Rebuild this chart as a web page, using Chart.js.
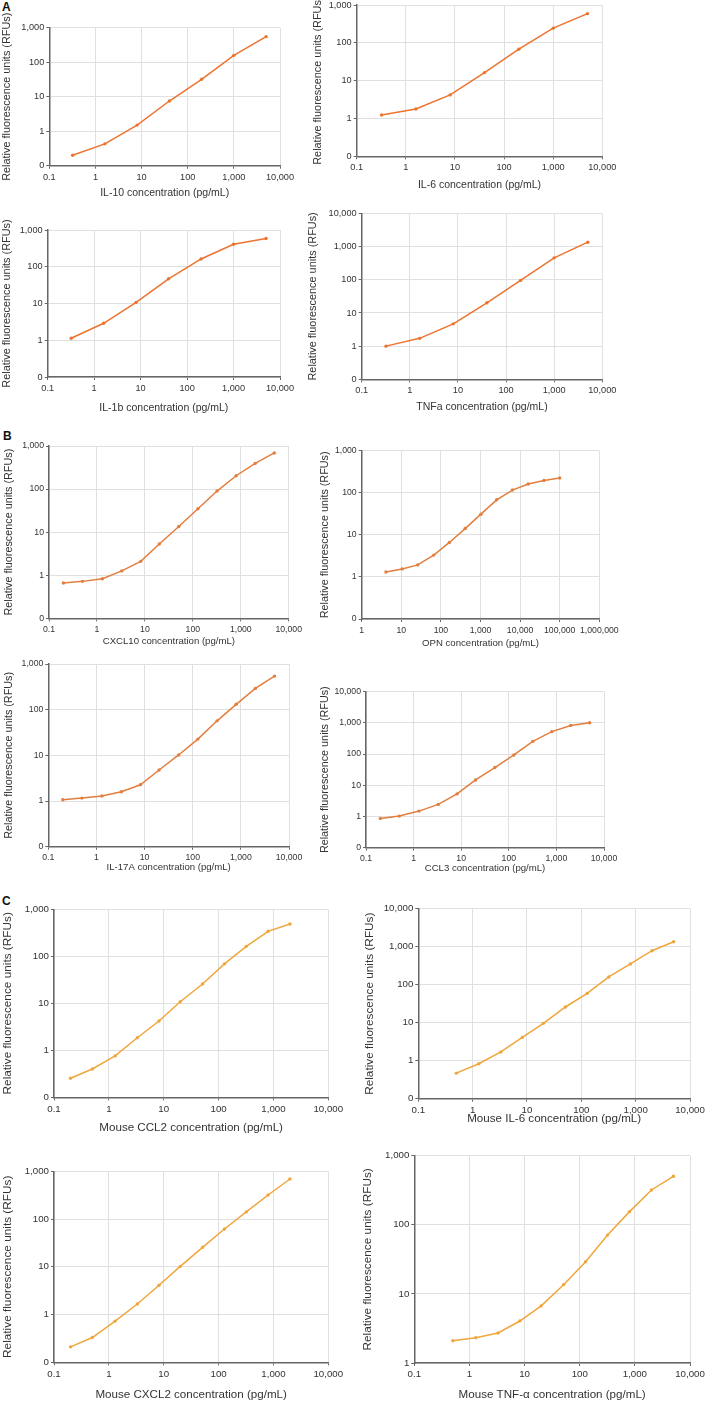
<!DOCTYPE html>
<html><head><meta charset="utf-8">
<script src="https://cdn.jsdelivr.net/npm/chart.js@4/dist/chart.umd.min.js"></script>
<style>
html,body{margin:0;padding:0;width:709px;height:1401px;overflow:hidden;background:#fff;position:relative;}
canvas{position:absolute;}
.lbl{position:absolute;font-family:"Liberation Sans",Arial,sans-serif;font-weight:bold;font-size:12px;color:#111;line-height:12px;}
</style></head><body>
<div class="lbl" style="left:2px;top:1px">A</div>
<div class="lbl" style="left:3px;top:430px">B</div>
<div class="lbl" style="left:2px;top:895px">C</div>
<script>
// ---- tick label values ----
const xTicksStd = [0.1, 1, 10, 100, 1000, 10000];
const xTicksOPN = [1, 10, 100, 1000, 10000, 100000, 1000000];
const yTicks3 = [0.1, 1, 10, 100, 1000];
const yTicks4 = [0.1, 1, 10, 100, 1000, 10000];
const yTicksTNF = [1, 10, 100, 1000];

// ---- series data ----
const il10X = [0.32, 1.6, 8, 40, 200, 1000, 5000];
const il10Y = [0.2, 0.43, 1.5, 7.5, 32, 158, 550];
const il6X = [0.32, 1.6, 8, 40, 200, 1000, 5000];
const il6Y = [1.24, 1.78, 4.2, 16.3, 68, 244, 590];
const il1bX = [0.32, 1.6, 8, 40, 200, 1000, 5000];
const il1bY = [1.13, 2.9, 10.7, 47, 163, 410, 585];
const tnfaX = [0.32, 1.6, 8, 40, 200, 1000, 5000];
const tnfaY = [1.0, 1.72, 4.7, 20.3, 96, 460, 1365];
const cxcl10X = [0.2, 0.5, 1.3, 3.3, 8.2, 20, 51, 128, 320, 800, 2000, 5000];
const cxcl10Y = [0.66, 0.72, 0.83, 1.26, 2.1, 5.3, 13.5, 35, 90, 204, 395, 690];
const opnX = [4.1, 10.5, 26, 66, 164, 410, 1024, 2560, 6400, 16000, 40000, 100000];
const opnY = [1.31, 1.55, 1.93, 3.3, 6.6, 14.1, 31, 68, 116, 161, 196, 224];
const il17aX = [0.2, 0.5, 1.3, 3.3, 8.2, 20, 51, 128, 320, 800, 2000, 5000];
const il17aY = [1.07, 1.16, 1.29, 1.6, 2.27, 4.77, 10.2, 22.7, 57, 131, 292, 543];
const ccl3X = [0.2, 0.5, 1.3, 3.3, 8.2, 20, 51, 128, 320, 800, 2000, 5000];
const ccl3Y = [0.87, 1.03, 1.49, 2.44, 5.3, 14.8, 37, 94, 256, 524, 830, 1014];
const mCcl2X = [0.2, 0.5, 1.3, 3.3, 8.2, 20, 51, 128, 320, 800, 2000];
const mCcl2Y = [0.254, 0.4, 0.76, 1.85, 4.2, 10.8, 25.7, 69, 163, 340, 486];
const mIl6X = [0.5, 1.3, 3.3, 8.2, 20, 51, 128, 320, 800, 2000, 5000];
const mIl6Y = [0.47, 0.83, 1.7, 4.1, 9.6, 25.9, 59, 160, 351, 785, 1350];
const mCxcl2X = [0.2, 0.5, 1.3, 3.3, 8.2, 20, 51, 128, 320, 800, 2000];
const mCxcl2Y = [0.21, 0.33, 0.73, 1.66, 4.1, 10.2, 25.6, 62, 141, 319, 690];
const mTnfX = [0.5, 1.3, 3.3, 8.2, 20, 51, 128, 320, 800, 2000, 5000];
const mTnfY = [2.1, 2.32, 2.72, 4.05, 6.7, 13.6, 29.2, 71, 155, 319, 504];

const yTitle = 'Relative fluorescence units (RFUs)';
const colA = '#EC742F', colB = '#E27E3E', colC = '#EFA63C';
const FAM = '"Liberation Sans", Arial, Helvetica, sans-serif';

const styleA = {tFs: 9.2, xFs: 10.5, yFs: 10.9, color: colA};
const styleB = {tFs: 8.7, xFs: 9.6, yFs: 10.8, color: colB};
const styleC = {tFs: 9.7, xFs: 11.6, yFs: 11.8, color: colC};

const panels = [
  {x: il10X, y: il10Y, xt: xTicksStd, yt: yTicks3, xl: 'IL-10 concentration (pg/mL)', s: styleA, pl: 49.3, pt: 27.7, pr: 280, pb: 165.7, ytx: 7, xty: 193},
  {x: il6X, y: il6Y, xt: xTicksStd, yt: yTicks3, xl: 'IL-6 concentration (pg/mL)', s: styleA, pl: 356.7, pt: 5, pr: 602.3, pb: 156.3, ytx: 318, xty: 184.3},
  {x: il1bX, y: il1bY, xt: xTicksStd, yt: yTicks3, xl: 'IL-1b concentration (pg/mL)', s: styleA, pl: 47.7, pt: 230, pr: 280, pb: 377, ytx: 6.7, xty: 407.3},
  {x: tnfaX, y: tnfaY, xt: xTicksStd, yt: yTicks4, xl: 'TNFa concentration (pg/mL)', s: styleA, pl: 361.7, pt: 213.5, pr: 602.3, pb: 379.3, ytx: 313, xty: 406.7},
  {x: cxcl10X, y: cxcl10Y, xt: xTicksStd, yt: yTicks3, xl: 'CXCL10 concentration (pg/mL)', s: styleB, pl: 49, pt: 446, pr: 288.7, pb: 618.3, ytx: 9.3, xty: 641.7},
  {x: opnX, y: opnY, xt: xTicksOPN, yt: yTicks3, xl: 'OPN concentration (pg/mL)', s: styleB, pl: 361.7, pt: 450.7, pr: 599.3, pb: 619, ytx: 325, xty: 643.3},
  {x: il17aX, y: il17aY, xt: xTicksStd, yt: yTicks3, xl: 'IL-17A concentration (pg/mL)', s: styleB, pl: 48.3, pt: 664, pr: 289, pb: 846.7, ytx: 9.3, xty: 867.7},
  {x: ccl3X, y: ccl3Y, xt: xTicksStd, yt: yTicks4, xl: 'CCL3 concentration (pg/mL)', s: styleB, pl: 366, pt: 691.7, pr: 604, pb: 847.7, ytx: 325, xty: 868},
  {x: mCcl2X, y: mCcl2Y, xt: xTicksStd, yt: yTicks3, xl: 'Mouse CCL2 concentration (pg/mL)', s: styleC, pl: 54, pt: 909.3, pr: 328.3, pb: 1097.3, ytx: 8.3, xty: 1128.3},
  {x: mIl6X, y: mIl6Y, xt: xTicksStd, yt: yTicks4, xl: 'Mouse IL-6 concentration (pg/mL)', s: styleC, pl: 418.3, pt: 908.7, pr: 690, pb: 1098.7, ytx: 370, xty: 1119.5},
  {x: mCxcl2X, y: mCxcl2Y, xt: xTicksStd, yt: yTicks3, xl: 'Mouse CXCL2 concentration (pg/mL)', s: styleC, pl: 54, pt: 1171.3, pr: 328.3, pb: 1362.3, ytx: 8.3, xty: 1395},
  {x: mTnfX, y: mTnfY, xt: xTicksStd, yt: yTicksTNF, xl: 'Mouse TNF-\u03B1 concentration (pg/mL)', s: styleC, pl: 414.3, pt: 1155.7, pr: 690, pb: 1363, ytx: 368.3, xty: 1395}
];

function fmt(v) {
  if (v < 1) return String(v);
  return String(Math.round(v)).replace(/\B(?=(\d{3})+(?!\d))/g, ',');
}

function build(p) {
  const s = p.s;
  const lhY = s.yFs * 1.2, lhX = s.xFs * 1.2;
  const cl = Math.round(p.ytx - lhY / 2);
  const ct = Math.max(0, Math.round(p.pt - 30));
  const cr = Math.min(709, Math.round(p.pr + 25));
  const cb = Math.round(p.xty + lhX / 2);
  const W = cr - cl, H = cb - ct;
  const cv = document.createElement('canvas');
  cv.width = W; cv.height = H;
  cv.style.left = cl + 'px'; cv.style.top = ct + 'px';
  cv.style.width = W + 'px'; cv.style.height = H + 'px';
  document.body.appendChild(cv);
  const yW = p.pl - cl, xH = cb - p.pb;
  const padTop = p.pt - ct, padRight = cr - p.pr;
  const yMin = p.yt[0];
  new Chart(cv, {
    type: 'line',
    data: {datasets: [{
      data: p.x.map((v, i) => ({x: v, y: p.y[i]})),
      borderColor: s.color, backgroundColor: s.color,
      borderWidth: 1.5, pointRadius: 1.7, pointBorderWidth: 0, pointHoverRadius: 0, tension: 0
    }]},
    options: {
      responsive: false, animation: false, devicePixelRatio: 1,
      layout: {padding: {left: 0, top: padTop, right: padRight, bottom: 0}},
      plugins: {legend: {display: false}, tooltip: {enabled: false}},
      scales: {
        x: {
          type: 'logarithmic', min: p.xt[0], max: p.xt[p.xt.length - 1],
          afterBuildTicks: sc => { sc.ticks = p.xt.map(v => ({value: v})); },
          afterFit: sc => { sc.height = xH; sc.paddingLeft = 0; sc.paddingRight = 0; },
          ticks: {autoSkip: false, maxRotation: 0, minRotation: 0, padding: 3, color: '#333',
                  font: {family: FAM, size: s.tFs}, callback: v => fmt(v)},
          grid: {color: '#e0e0e0', tickColor: '#666', tickLength: 3, lineWidth: 1},
          border: {color: '#666', width: 1.5},
          title: {display: true, text: p.xl, color: '#333', font: {family: FAM, size: s.xFs}, padding: 0}
        },
        y: {
          type: 'logarithmic', min: yMin, max: p.yt[p.yt.length - 1],
          afterBuildTicks: sc => { sc.ticks = p.yt.map(v => ({value: v})); },
          afterFit: sc => { sc.width = yW; sc.paddingTop = 0; sc.paddingBottom = 0; },
          ticks: {autoSkip: false, padding: 2, color: '#333',
                  font: {family: FAM, size: s.tFs}, callback: v => (v === 0.1 ? '0' : fmt(v))},
          grid: {color: '#e0e0e0', tickColor: '#666', tickLength: 3, lineWidth: 1},
          border: {color: '#666', width: 1.5},
          title: {display: true, text: yTitle, color: '#333', font: {family: FAM, size: s.yFs}, padding: 0}
        }
      }
    }
  });
}

panels.forEach(build);
</script>
</body></html>
